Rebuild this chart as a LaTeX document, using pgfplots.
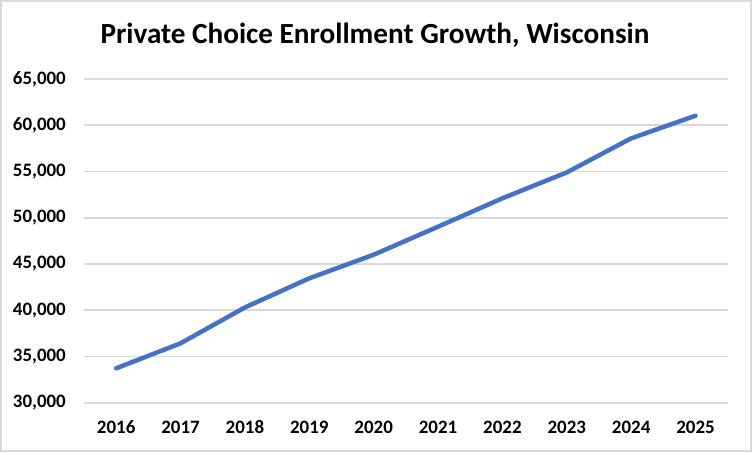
\documentclass[border=0pt]{standalone}
\usepackage{pgfplots}
\pgfplotsset{compat=1.18}
\usepackage{fontspec}
\setmainfont{Carlito}
\definecolor{lineblue}{HTML}{4472C4}
\definecolor{gridgray}{HTML}{D9D9D9}
\begin{document}
\begin{tikzpicture}
  \path[use as bounding box, fill=white] (0,0) rectangle (752bp,452bp);
  \draw[gridgray, line width=2.5bp] (1.2bp,1.2bp) rectangle (750.8bp,450.8bp);
  \node[anchor=base, font=\fontsize{29.3}{33}\selectfont\bfseries, inner sep=0pt]
    at (375bp,408bp) {Private Choice Enrollment Growth, Wisconsin};
  \begin{axis}[
    at={(84bp,49.3bp)}, anchor=south west,
    scale only axis,
    width=643.7bp, height=323.7bp,
    xmin=2015.5, xmax=2025.5,
    ymin=30000, ymax=65000,
    xtick={2016,2017,2018,2019,2020,2021,2022,2023,2024,2025},
    xticklabels={2016,2017,2018,2019,2020,2021,2022,2023,2024,2025},
    ytick={30000,35000,40000,45000,50000,55000,60000,65000},
    /pgf/number format/assume math mode=true,
    /pgf/number format/1000 sep={,},
    scaled y ticks=false,
    axis line style={draw=none},
    major tick length=0pt,
    ymajorgrids=true,
    grid style={gridgray, line width=1.9bp},
    tick label style={font=\fontsize{19}{22}\selectfont\bfseries},
    yticklabel style={anchor=east, inner sep=0pt, xshift=-18bp},
    xticklabel style={anchor=north, inner sep=0pt, yshift=-18bp},
    clip=false,
  ]
  \addplot[color=lineblue, line width=4.5bp, line cap=round, line join=round] coordinates {
    (2016, 33720)
    (2017, 36420)
    (2018, 40300)
    (2019, 43450)
    (2020, 46000)
    (2021, 49030)
    (2022, 52100)
    (2023, 54900)
    (2024, 58580)
    (2025, 61030)
  };
  \end{axis}
\end{tikzpicture}
\end{document}
